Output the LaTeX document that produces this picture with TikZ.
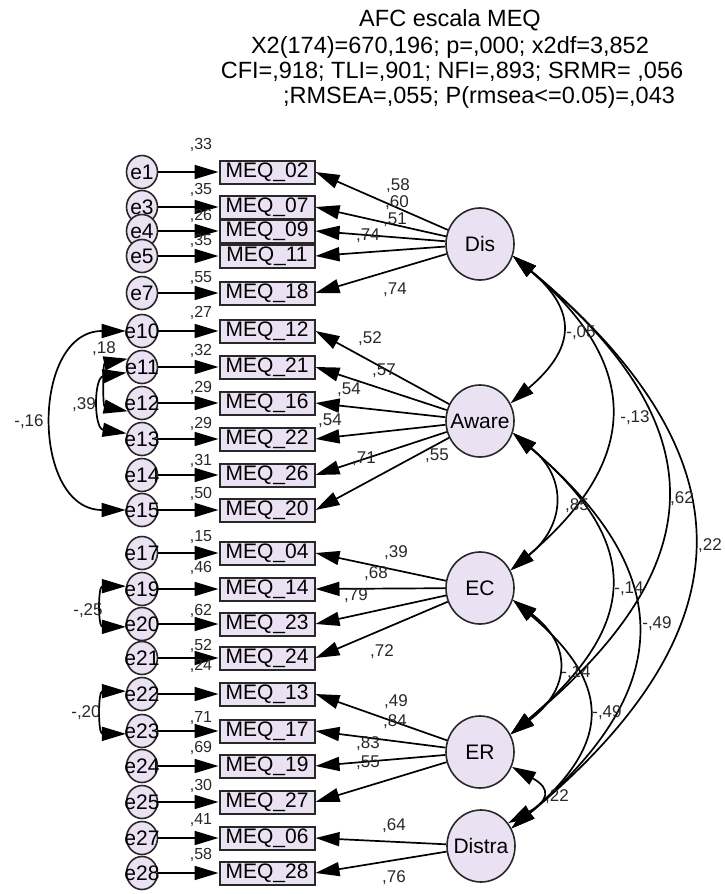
\documentclass[tikz,border=0pt]{standalone}
\usepackage{fontspec}
\setmainfont{Liberation Sans}
\usetikzlibrary{shapes.geometric, arrows.meta}
\definecolor{nodefill}{RGB}{234,226,243}
\definecolor{inkgray}{RGB}{40,40,40}
\newcommand{\ctext}[1]{\makebox[0pt]{#1}}

\begin{document}
\begin{tikzpicture}[x=1pt, y=-1pt,
  errnode/.style={ellipse, draw=inkgray, line width=1.6pt, fill=nodefill, minimum width=31pt, minimum height=33pt, inner sep=0pt, font=\fontsize{21}{22}\selectfont},
  indicator/.style={rectangle, draw=inkgray, line width=2pt, fill=nodefill, minimum width=95pt, minimum height=23pt, inner sep=0pt, font=\fontsize{21}{22}\selectfont},
  factor/.style={ellipse, draw=inkgray, line width=1.6pt, fill=nodefill, minimum width=68pt, minimum height=72pt, inner sep=0pt, font=\fontsize{21}{22}\selectfont},
  load/.style={line width=1.7pt, -{Triangle[length=24pt, width=14pt]}},
  cov/.style={line width=1.7pt, {Triangle[length=24pt, width=14pt]}-{Triangle[length=24pt, width=14pt]}},
  est/.style={font=\fontsize{17}{18}\selectfont, text=inkgray, inner sep=0pt},
  rsq/.style={font=\fontsize{16}{17}\selectfont, text=inkgray, inner sep=0pt},
  headline/.style={font=\fontsize{23.5}{25}\selectfont, inner sep=0pt}]
\useasboundingbox (0,0) rectangle (724,894);

% Title
\node[headline] (t1) at (450,20) {AFC escala MEQ};
\node[headline] (t2) at (450,47) {X2(174)=670,196; p=,000; x2df=3,852};
\node[headline] (t3) at (452,72) {CFI=,918; TLI=,901; NFI=,893; SRMR= ,056};
\node[headline] (t4) at (479,97) {;RMSEA=,055; P(rmsea<=0.05)=,043};

% Latent factors
\node[factor] (Dis) at (480,244) {\ctext{Dis}};
\node[factor] (Aware) at (480,421) {\ctext{Aware}};
\node[factor] (EC) at (480,588) {\ctext{EC}};
\node[factor] (ER) at (480,752) {\ctext{ER}};
\node[factor] (Distra) at (481,846) {\ctext{Distra}};

% Dis items
\node[errnode] (e1) at (142,172) {\ctext{e1}};
\node[indicator] (m02) at (267,172) {MEQ\_02};
\node[errnode] (e3) at (142,207) {\ctext{e3}};
\node[indicator] (m07) at (267,207) {MEQ\_07};
\node[errnode] (e4) at (142,231) {\ctext{e4}};
\node[indicator] (m09) at (267,231) {MEQ\_09};
\node[errnode] (e5) at (142,256) {\ctext{e5}};
\node[indicator] (m11) at (267,256) {MEQ\_11};
\node[errnode] (e7) at (142,293) {\ctext{e7}};
\node[indicator] (m18) at (267,293) {MEQ\_18};

% Aware items
\node[errnode] (e10) at (142,331) {\ctext{e10}};
\node[indicator] (m12) at (267,331) {MEQ\_12};
\node[errnode] (e11) at (142,367) {\ctext{e11}};
\node[indicator] (m21) at (267,367) {MEQ\_21};
\node[errnode] (e12) at (142,403) {\ctext{e12}};
\node[indicator] (m16) at (267,403) {MEQ\_16};
\node[errnode] (e13) at (142,439) {\ctext{e13}};
\node[indicator] (m22) at (267,439) {MEQ\_22};
\node[errnode] (e14) at (142,475) {\ctext{e14}};
\node[indicator] (m26) at (267,475) {MEQ\_26};
\node[errnode] (e15) at (142,510) {\ctext{e15}};
\node[indicator] (m20) at (267,510) {MEQ\_20};

% EC items
\node[errnode] (e17) at (142,553) {\ctext{e17}};
\node[indicator] (m04) at (267,553) {MEQ\_04};
\node[errnode] (e19) at (142,589) {\ctext{e19}};
\node[indicator] (m14) at (267,589) {MEQ\_14};
\node[errnode] (e20) at (142,624) {\ctext{e20}};
\node[indicator] (m23) at (267,624) {MEQ\_23};
\node[errnode] (e21) at (142,658) {\ctext{e21}};
\node[indicator] (m24) at (267,658) {MEQ\_24};

% ER items
\node[errnode] (e22) at (142,694) {\ctext{e22}};
\node[indicator] (m13) at (267,694) {MEQ\_13};
\node[errnode] (e23) at (142,731) {\ctext{e23}};
\node[indicator] (m17) at (267,731) {MEQ\_17};
\node[errnode] (e24) at (142,766) {\ctext{e24}};
\node[indicator] (m19) at (267,766) {MEQ\_19};
\node[errnode] (e25) at (142,802) {\ctext{e25}};
\node[indicator] (m27) at (267,802) {MEQ\_27};

% Distra items
\node[errnode] (e27) at (142,838) {\ctext{e27}};
\node[indicator] (m06) at (267,838) {MEQ\_06};
\node[errnode] (e28) at (142,873) {\ctext{e28}};
\node[indicator] (m28) at (267,873) {MEQ\_28};

% Error paths
\draw[load] (e1) -- (m02);
\draw[load] (e3) -- (m07);
\draw[load] (e4) -- (m09);
\draw[load] (e5) -- (m11);
\draw[load] (e7) -- (m18);
\draw[load] (e10) -- (m12);
\draw[load] (e11) -- (m21);
\draw[load] (e12) -- (m16);
\draw[load] (e13) -- (m22);
\draw[load] (e14) -- (m26);
\draw[load] (e15) -- (m20);
\draw[load] (e17) -- (m04);
\draw[load] (e19) -- (m14);
\draw[load] (e20) -- (m23);
\draw[load] (e21) -- (m24);
\draw[load] (e22) -- (m13);
\draw[load] (e23) -- (m17);
\draw[load] (e24) -- (m19);
\draw[load] (e25) -- (m27);
\draw[load] (e27) -- (m06);
\draw[load] (e28) -- (m28);

% Squared multiple correlations
\node[rsq] (r02) at (201,145) {,33};
\node[rsq] (r07) at (201,190) {,35};
\node[rsq] (r09) at (201,216) {,26};
\node[rsq] (r11) at (201,241) {,35};
\node[rsq] (r18) at (201,278) {,55};
\node[rsq] (r12) at (201,313) {,27};
\node[rsq] (r21) at (201,351) {,32};
\node[rsq] (r16) at (201,388) {,29};
\node[rsq] (r22) at (201,424) {,29};
\node[rsq] (r26) at (201,461) {,31};
\node[rsq] (r20) at (201,494) {,50};
\node[rsq] (r04) at (201,537) {,15};
\node[rsq] (r14) at (201,568) {,46};
\node[rsq] (r23) at (201,611) {,62};
\node[rsq] (r24) at (201,646) {,52};
\node[rsq] (r13) at (201,666) {,24};
\node[rsq] (r17) at (201,718) {,71};
\node[rsq] (r19) at (201,748) {,69};
\node[rsq] (r27) at (201,786) {,30};
\node[rsq] (r06) at (201,820) {,41};
\node[rsq] (r28) at (201,855) {,58};

% Factor loadings
\draw[load] (Dis) -- (m02.east);
\draw[load] (Dis) -- (m07.east);
\draw[load] (Dis) -- (m09.east);
\draw[load] (Dis) -- (m11.east);
\draw[load] (Dis) -- (m18.east);
\draw[load] (Aware) -- (m12.east);
\draw[load] (Aware) -- (m21.east);
\draw[load] (Aware) -- (m16.east);
\draw[load] (Aware) -- (m22.east);
\draw[load] (Aware) -- (m26.east);
\draw[load] (Aware) -- (m20.east);
\draw[load] (EC) -- (m04.east);
\draw[load] (EC) -- (m14.east);
\draw[load] (EC) -- (m23.east);
\draw[load] (EC) -- (m24.east);
\draw[load] (ER) -- (m13.east);
\draw[load] (ER) -- (m17.east);
\draw[load] (ER) -- (m19.east);
\draw[load] (ER) -- (m27.east);
\draw[load] (Distra) -- (m06.east);
\draw[load] (Distra) -- (m28.east);

% Loading values
\node[est] (l02) at (398,186) {,58};
\node[est] (l07) at (397,203) {,60};
\node[est] (l09) at (395,220) {,51};
\node[est] (l11) at (368,236) {,74};
\node[est] (l18) at (395,290) {,74};
\node[est] (l12) at (370,339) {,52};
\node[est] (l21) at (384,371) {,57};
\node[est] (l16) at (349,390) {,54};
\node[est] (l22) at (330,421) {,54};
\node[est] (l26) at (364,459) {,71};
\node[est] (l20) at (437,456) {,55};
\node[est] (l04) at (396,553) {,39};
\node[est] (l14) at (376,574) {,68};
\node[est] (l23) at (356,596) {,79};
\node[est] (l24) at (382,652) {,72};
\node[est] (l13) at (396,702) {,49};
\node[est] (l17) at (395,722) {,84};
\node[est] (l19) at (368,744) {,83};
\node[est] (l27) at (368,763) {,55};
\node[est] (l06) at (394,826) {,64};
\node[est] (l28) at (394,878) {,76};

% Error covariances
\draw[cov] (e10.180) .. controls +(-95,0) and +(-95,0) .. (e15.180);
\draw[cov] (e11.150) .. controls +(-25,5) and +(-25,-5) .. (e12.210);
\draw[cov] (e11.200) .. controls +(-33,5) and +(-33,-5) .. (e13.160);
\draw[cov] (e19.170) .. controls +(-28,0) and +(-28,0) .. (e20.190);
\draw[cov] (e22.170) .. controls +(-28,0) and +(-28,0) .. (e23.190);
\node[est] (c1016) at (29,422) {-,16};
\node[est] (c1118) at (104,349) {,18};
\node[est] (c1139) at (84,405) {,39};
\node[est] (c1920) at (88,611) {-,25};
\node[est] (c2223) at (86,713) {-,20};

% Factor covariances
\draw[cov] (Dis.-20) .. controls +(65,55) and +(65,-55) .. (Aware.30);
\draw[cov] (Dis.-20) .. controls +(130,110) and +(130,-110) .. (EC.30);
\draw[cov] (Dis.-20) .. controls +(205,170) and +(205,-170) .. (ER.30);
\draw[cov] (Dis.-20) .. controls +(240,200) and +(240,-200) .. (Distra.30);
\draw[cov] (Aware.-20) .. controls +(55,45) and +(55,-45) .. (EC.30);
\draw[cov] (Aware.-20) .. controls +(130,110) and +(130,-110) .. (ER.30);
\draw[cov] (Aware.-20) .. controls +(165,140) and +(165,-140) .. (Distra.30);
\draw[cov] (EC.-20) .. controls +(60,45) and +(60,-45) .. (ER.30);
\draw[cov] (EC.-20) .. controls +(100,85) and +(100,-85) .. (Distra.30);
\draw[cov] (ER.-25) .. controls +(40,22) and +(40,-22) .. (Distra.40);
\node[est] (cDisAw) at (581,333) {-,05};
\node[est] (cDisEC) at (635,418) {-,13};
\node[est] (cDisER) at (682,499) {,62};
\node[est] (cDisDi) at (710,546) {,22};
\node[est] (cAwEC) at (577,506) {,85};
\node[est] (cAwER) at (629,589) {-,14};
\node[est] (cAwDi) at (657,624) {-,49};
\node[est] (cECER) at (576,673) {-,14};
\node[est] (cECDi) at (607,713) {-,49};
\node[est] (cERDi) at (557,797) {,22};
\end{tikzpicture}
\end{document}
